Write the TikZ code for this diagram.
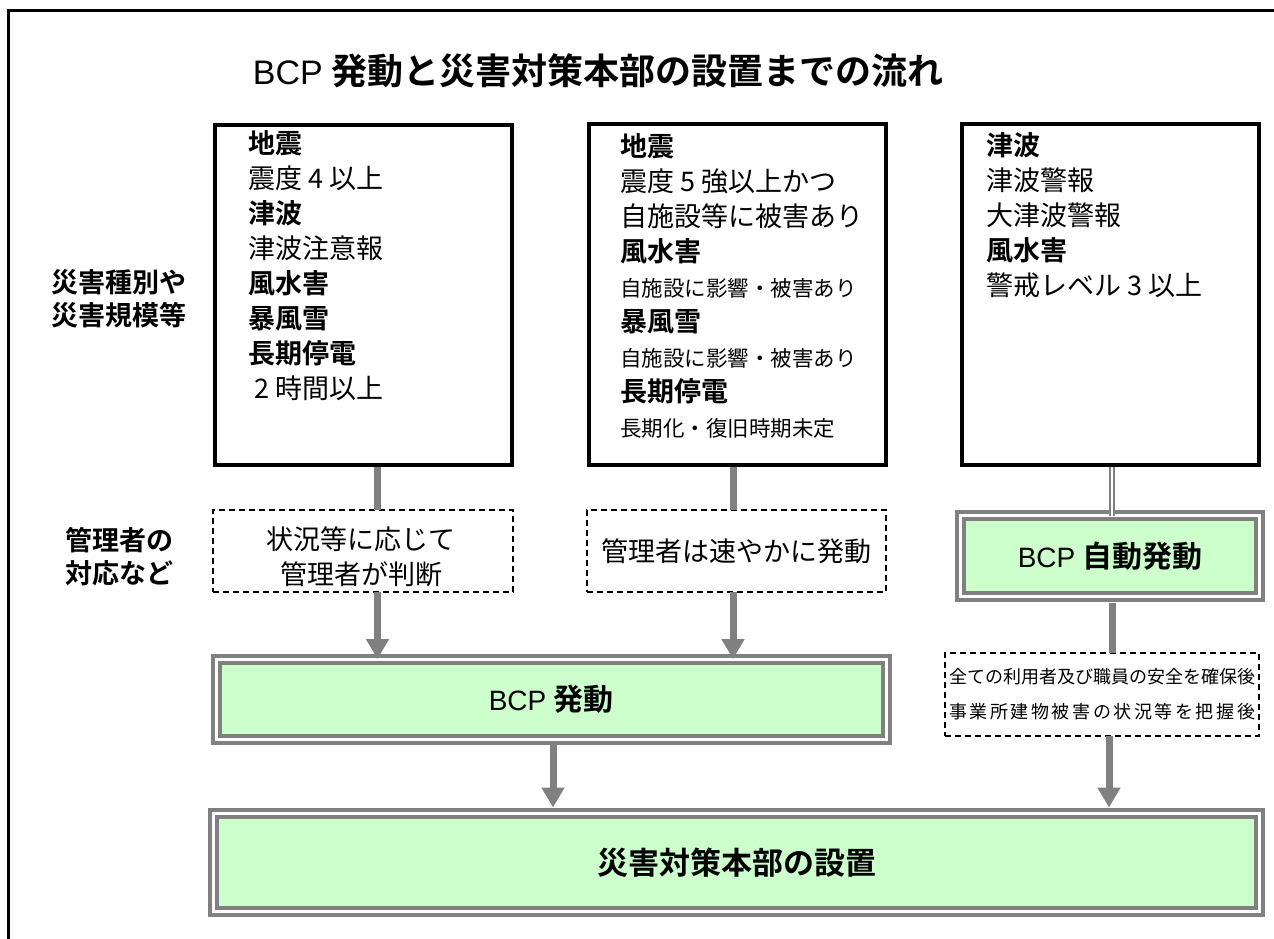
\documentclass[tikz,border=0pt]{standalone}
\usepackage{fontspec}
\setmainfont{Noto Sans CJK JP}[BoldFont={Noto Sans CJK JP Bold}]
\newfontfamily\latin{Liberation Sans}
\usetikzlibrary{arrows.meta,calc}
\definecolor{lgreen}{HTML}{CCFFCC}
\definecolor{cgray}{HTML}{808080}
\newcommand\fsz[2]{\fontsize{#1}{#2}\selectfont}
\newcommand\smalljp{\fontsize{21.5}{25}\selectfont}
\begin{document}
\begin{tikzpicture}[x=1pt,y=-1pt,
 every node/.style={outer sep=0pt},
 blackbox/.style={draw=black,line width=4pt,minimum width=297pt,minimum height=340pt,inner sep=0pt},
 dashbox/.style={draw=black,line width=2pt,dash pattern=on 6pt off 4pt,fill=white,inner sep=0pt,align=center,font=\fsz{27}{35}},
 boxtext/.style={inner sep=0pt,align=center,font=\fsz{27}{35}},
 dblbox/.style={draw=cgray,line width=4pt,double=white,double distance=3pt,fill=lgreen,inner sep=0pt,align=center},
 conn/.style={draw=cgray,line width=7pt},
 arr/.style={conn,-{Triangle[width=22pt,length=20pt]}},
 txtline/.style={anchor=base west,inner sep=0pt,font=\fsz{27}{35}},
 side/.style={align=center,font=\fsz{27}{33}\bfseries,inner sep=0pt},
]
\useasboundingbox (0,0) rectangle (1274,939);
% frame
\draw[line width=3pt] (8,960) -- (8,11) -- (1290,11);
% title
\node[anchor=base,inner sep=0pt,font=\fsz{36}{40}\bfseries] (title) at (598,85)
  {{\latin\mdseries\fontsize{34}{40}\selectfont BCP} 発動と災害対策本部の設置までの流れ};
% side labels
\node[side] (s1) at (119,298.5) {災害種別や\\災害規模等};
\node[side] (s2) at (119,556.5) {管理者の\\対応など};
% condition boxes
\node[blackbox] (b1) at (363.5,295) {};
\node[blackbox] (b2) at (737,294.5) {};
\node[blackbox] (b3) at (1110,294.5) {};
\foreach \t [count=\i] in {{\bfseries 地震},震度 4 以上,{\bfseries 津波},津波注意報,{\bfseries 風水害},{\bfseries 暴風雪},{\bfseries 長期停電},{\hspace{6pt}2 時間以上}}
  \node[txtline] (a\i) at (248,{143+35*(\i-1)+10.3}) {\t};
\foreach \t [count=\i] in {{\bfseries 地震},震度 5 強以上かつ,自施設等に被害あり,{\bfseries 風水害},{\smalljp 自施設に影響・被害あり},{\bfseries 暴風雪},{\smalljp 自施設に影響・被害あり},{\bfseries 長期停電},{\smalljp 長期化・復旧時期未定}}
  \node[txtline] (c\i) at (620,{146+35*(\i-1)+10.3}) {\t};
\foreach \t [count=\i] in {{\bfseries 津波},津波警報,大津波警報,{\bfseries 風水害},警戒レベル 3 以上}
  \node[txtline] (e\i) at (986,{145+35*(\i-1)+10.3}) {\t};
% manager boxes
\node[dashbox,minimum width=300pt,minimum height=82pt] (d1) at (363,551) {};
\node[boxtext] (d1t) at (361,557) {状況等に応じて\\管理者が判断};
\node[dashbox,minimum width=299pt,minimum height=82pt] (d2) at (736.5,551) {管理者は速やかに発動};
\node[dblbox,minimum width=299pt,minimum height=81pt,font=\fsz{30}{36}\bfseries] (auto) at (1110,556)
  {{\latin\mdseries\fontsize{28}{36}\selectfont BCP} 自動発動};
\node[dashbox,minimum width=314pt,minimum height=83pt,font=\fsz{18}{35}] (d3) at (1102,694.5)
  {全ての利用者及び職員の安全を確保後\\\hbox to 306pt{事\hfil 業\hfil 所\hfil 建\hfil 物\hfil 被\hfil 害\hfil の\hfil 状\hfil 況\hfil 等\hfil を\hfil 把\hfil 握\hfil 後}};
% BCP boxes
\node[dblbox,minimum width=670pt,minimum height=80pt,font=\fsz{30}{36}\bfseries] (bcp) at (551,699)
  {{\latin\mdseries\fontsize{28}{36}\selectfont BCP} 発動};
\node[dblbox,minimum width=1046pt,minimum height=98pt,font=\fsz{31}{36}\bfseries] (hq) at (736.5,862.5)
  {災害対策本部の設置};
% connectors
\coordinate (x1) at ([xshift=14pt]b1.south);
\draw[conn] ([yshift=-2pt]x1) -- (x1 |- d1.north);
\coordinate (x1b) at (x1 |- d1.south);
\draw[arr] (x1b) -- (x1b |- bcp.north);
\coordinate (x2) at ([xshift=-4pt]b2.south);
\draw[conn] ([yshift=-2pt]x2) -- (x2 |- d2.north);
\coordinate (x2b) at (x2 |- d2.south);
\draw[arr] (x2b) -- (x2b |- bcp.north);
\coordinate (x3) at ([xshift=2pt]b3.south);
\draw[draw=cgray,line width=1.8pt,double=white,double distance=2.5pt] ([yshift=-2pt]x3) -- (x3 |- auto.north);
\coordinate (x3b) at (x3 |- auto.south);
\draw[conn] ([yshift=-6pt]x3b) -- (x3b |- d3.north);
\coordinate (x4) at ([xshift=7pt]d3.south);
\coordinate (x4e) at (x4 |- hq.north);
\draw[arr] (x4) -- ([yshift=6pt]x4e);
\coordinate (x5) at ([xshift=2pt]bcp.south);
\coordinate (x5e) at (x5 |- hq.north);
\draw[arr] ([yshift=-6pt]x5) -- ([yshift=6pt]x5e);
\end{tikzpicture}
\end{document}
